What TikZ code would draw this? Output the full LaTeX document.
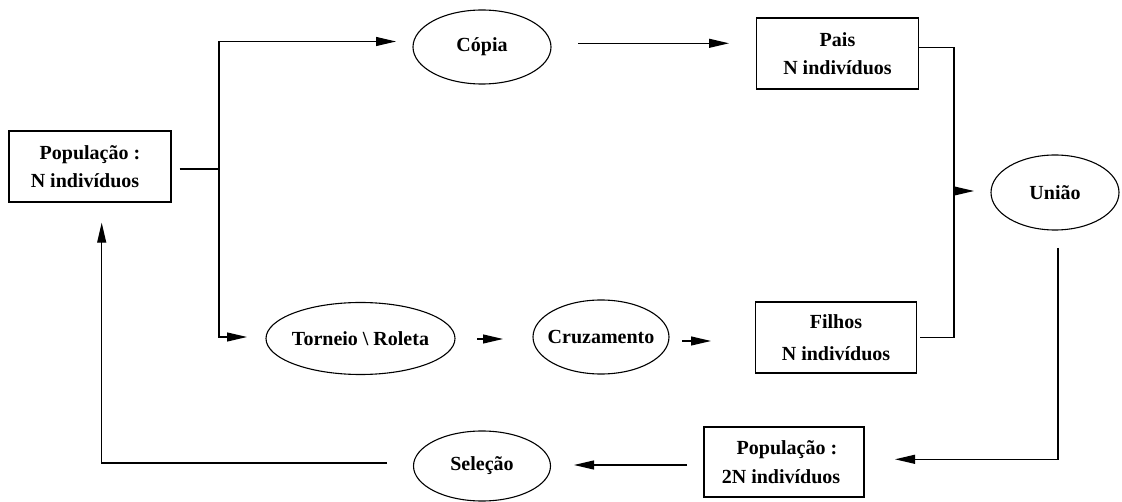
\documentclass[tikz,border=0pt]{standalone}
\usepackage{fontspec}
\setmainfont{Liberation Serif}
\usetikzlibrary{arrows.meta,shapes.geometric}
\begin{document}
\begin{tikzpicture}[x=1pt,y=-1pt,
  lbl/.style={font=\fontsize{20}{28.5}\selectfont\bfseries, align=center, inner sep=0pt},
  boxn/.style={lbl, draw, line width=1.1pt, rectangle, minimum width=162pt, minimum height=71pt},
  elln/.style={draw, line width=1.1pt, ellipse, inner sep=0pt},
  conn/.style={line width=1.1pt},
  arr/.style={conn, -{Triangle[length=20pt,width=9pt]}}]
\useasboundingbox (0,0) rectangle (1122,502);

% nodes
\node[boxn] (pop) at (90,166.5) {População :\\N indivíduos\hspace*{10pt}};
\node[elln, minimum width=138pt, minimum height=74pt, label={[lbl]center:Cópia}] (copia) at (482,47) {};
\node[boxn] (pais) at (837.5,53.5) {Pais\\N indivíduos};
\node[elln, minimum width=128pt, minimum height=75pt, label={[lbl]center:União}] (uniao) at (1055,192.5) {};
\node[elln, minimum width=189pt, minimum height=72pt, label={[lbl]center:Torneio \textbackslash{} Roleta}] (torneio) at (360.5,338.5) {};
\node[elln, minimum width=136pt, minimum height=74pt, label={[lbl]center:Cruzamento}] (cruz) at (601,337) {};
\node[boxn, minimum width=161pt, font=\fontsize{20}{32}\selectfont\bfseries] (filhos) at (836,337.5) {Filhos\\N indivíduos};
\node[boxn, minimum width=160pt, minimum height=70pt] (pop2) at (784,462) {\hspace*{6pt}População :\\2N indivíduos\hspace*{6pt}};
\node[elln, minimum width=137pt, minimum height=70pt, label={[lbl]center:Seleção}] (selecao) at (482,466) {};

% connector end points
\coordinate (split) at (219,169);
\coordinate (copiain) at (396,41.5);
\coordinate (torin) at (247,337);
\coordinate (copiaout) at (578,43.3);
\coordinate (paisin) at (729,43.3);
\coordinate (paisout) at (918.5,47.7);
\coordinate (join) at (954,191);
\coordinate (uniin) at (974,191);
\coordinate (filout) at (920,337.3);
\coordinate (uniout) at (1058,248);
\coordinate (pop2in) at (895,459.3);
\coordinate (pop2out) at (687,465);
\coordinate (selin) at (574,465);
\coordinate (selout) at (387,463);
\coordinate (popin) at (101.7,222.7);
\coordinate (torout) at (477,339);
\coordinate (cruzin) at (503,339);
\coordinate (cruzout) at (682,341);
\coordinate (filin) at (711,341);

% connectors
\draw[conn] ([xshift=8pt]pop.east |- split) -- (split);
\draw[arr] (split) |- (copiain);
\draw[arr] (split) |- (torin);
\draw[arr] (copiaout) -- (paisin);
\draw[conn] (paisout) -| (join) |- (filout);
\draw[arr] (join) -- (uniin);
\draw[arr] (uniout) |- (pop2in);
\draw[arr] (pop2out) -- (selin);
\draw[arr] (selout) -| (popin);
\draw[arr] (torout) -- (cruzin);
\draw[arr] (cruzout) -- (filin);
\end{tikzpicture}
\end{document}
